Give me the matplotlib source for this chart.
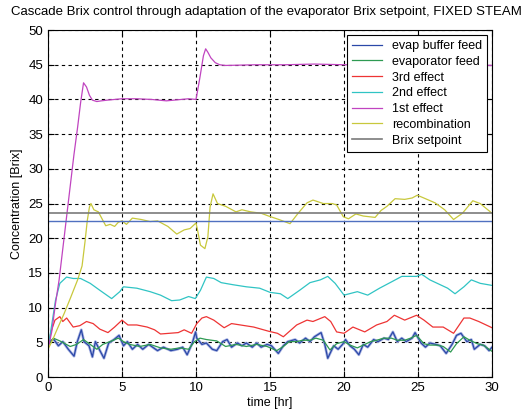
import matplotlib.pyplot as plt
import numpy as np

plt.rcParams['font.family'] = ['Liberation Sans', 'DejaVu Sans']

# 1st effect
t_1st = [0, 0.25, 0.5, 0.75, 1.0, 1.25, 1.5, 1.75, 2.0, 2.2, 2.4, 2.6, 2.8, 3.0, 3.3, 3.6, 4.0, 5.0, 6.0,
         7.0, 7.5, 8.0, 9.0, 9.5, 10.0, 10.25, 10.5, 10.65, 10.8, 11.0, 11.3, 11.6, 12.0, 14.0, 16.0,
         18.0, 20.0, 22.0, 24.0, 26.0, 28.0, 30.0]
v_1st = [4.0, 6.5, 10.5, 14.0, 18.5, 23.0, 27.5, 32.0, 36.0, 39.5, 42.4, 41.8, 40.6, 39.9, 39.7, 39.8, 39.9,
         40.1, 40.1, 40.0, 39.9, 39.8, 40.0, 40.1, 40.0, 43.0, 46.3, 47.3, 46.8, 46.0, 45.3, 45.0, 44.9,
         45.0, 45.0, 45.1, 45.0, 45.0, 45.0, 45.0, 45.0, 44.9]

# recombination
t_rec = [0, 0.3, 0.6, 1.1, 1.5, 2.0, 2.3, 2.5, 2.65, 2.8, 2.9, 3.1, 3.4, 3.7, 3.9, 4.2, 4.5, 4.75, 5.0,
         5.3, 5.7, 6.3, 6.9, 7.4, 8.1, 8.7, 9.2, 9.6, 10.0, 10.1, 10.3, 10.6, 10.8, 10.95, 11.15, 11.45,
         12.0, 12.7, 13.1, 13.7, 14.4, 14.9, 15.6, 16.35, 16.9, 17.5, 17.9, 18.6, 19.2, 19.5, 19.95,
         20.3, 20.8, 21.3, 22.1, 22.5, 22.9, 23.45, 24.1, 24.6, 24.95, 25.5, 26.15, 26.8, 27.4, 28.0,
         28.7, 29.2, 30.0]
v_rec = [4.0, 5.3, 6.8, 9.2, 11.3, 14.0, 16.0, 19.5, 22.5, 24.5, 25.0, 24.1, 23.8, 22.6, 21.8, 22.0, 21.7,
         22.3, 22.5, 22.0, 22.9, 22.7, 22.4, 22.5, 21.7, 20.6, 21.2, 21.4, 22.2, 21.2, 19.0, 18.5, 20.2,
         24.5, 26.4, 25.0, 24.6, 23.8, 24.1, 23.8, 23.6, 23.2, 22.7, 22.1, 23.6, 25.1, 25.5, 25.0, 25.0,
         24.8, 23.1, 22.8, 23.5, 23.2, 23.0, 24.0, 24.6, 25.7, 25.6, 25.8, 26.2, 25.7, 25.1, 24.1, 22.7,
         23.6, 25.4, 25.0, 23.6]

# 2nd effect
t_2nd = [0, 0.25, 0.5, 0.8, 1.25, 1.7, 2.2, 2.85, 3.5, 4.3, 4.85, 5.1, 6.0, 6.9, 7.6, 8.35, 8.9, 9.5, 9.95,
         10.3, 10.7, 11.2, 11.7, 12.5, 13.4, 14.3, 15.0, 15.7, 16.2, 17.0, 17.7, 18.4, 18.9, 19.4, 20.0,
         20.9, 21.6, 22.4, 23.2, 23.9, 24.9, 25.25, 25.8, 26.5, 27.0, 27.5, 28.1, 28.6, 29.2, 30.0]
v_2nd = [4.2, 7.5, 11.0, 13.5, 14.4, 14.2, 14.2, 13.5, 12.5, 11.3, 12.3, 13.0, 12.8, 12.3, 11.8, 11.0,
         11.1, 11.6, 11.3, 12.5, 14.4, 14.2, 13.6, 13.3, 13.0, 12.8, 12.2, 12.0, 11.3, 12.5, 13.6, 14.0,
         14.5, 13.5, 11.8, 12.3, 11.8, 12.8, 13.7, 14.5, 14.5, 14.8, 14.0, 13.3, 12.8, 12.0, 13.0, 14.0,
         13.5, 13.2]

# 3rd effect
t_3rd = [0, 0.2, 0.47, 0.8, 1.0, 1.26, 1.7, 2.15, 2.6, 3.05, 3.5, 4.05, 4.5, 5.0, 5.4, 6.0, 6.7, 7.2, 7.6,
         8.2, 8.8, 9.2, 9.7, 10.05, 10.4, 10.7, 11.2, 11.9, 12.4, 13.0, 13.9, 14.9, 15.5, 15.9, 16.8,
         17.5, 17.9, 18.7, 19.1, 19.5, 20.0, 20.6, 21.4, 22.2, 22.9, 23.4, 24.1, 24.9, 25.4, 26.0, 26.7,
         27.4, 28.1, 28.5, 29.1, 30.0]
v_3rd = [4.3, 6.5, 8.2, 8.7, 8.0, 8.5, 7.2, 7.4, 8.0, 7.7, 6.9, 6.4, 7.2, 8.2, 7.5, 7.5, 7.2, 6.8, 6.2,
         6.3, 6.4, 6.8, 6.3, 7.7, 8.5, 8.7, 8.2, 7.1, 7.7, 7.5, 7.2, 6.6, 6.3, 5.8, 7.5, 8.2, 8.0, 8.7,
         8.0, 6.5, 6.3, 7.2, 6.5, 7.5, 8.0, 8.9, 8.2, 8.9, 8.2, 7.2, 7.2, 6.3, 8.5, 8.5, 8.0, 7.1]

# evaporator feed
t_feed = [0, 0.36, 0.8, 1.5, 1.93, 2.4, 2.85, 3.3, 3.7, 4.3, 4.75, 5.1, 5.5, 6.2, 6.9, 7.6, 8.3, 8.9, 9.5,
          9.9, 10.27, 10.7, 11.4, 12.0, 12.7, 13.4, 14.1, 14.8, 15.45, 15.9, 16.3, 16.8, 17.2, 17.7,
          18.1, 18.6, 19.05, 19.5, 20.0, 20.4, 20.9, 21.3, 21.8, 22.2, 22.7, 23.2, 23.6, 24.1, 24.5,
          24.9, 25.4, 25.8, 26.3, 26.7, 27.2, 27.6, 28.1, 28.5, 29.0, 29.4, 30.0]
v_feed = [4.6, 5.6, 5.2, 4.4, 4.7, 5.4, 4.7, 4.0, 4.7, 5.2, 5.6, 5.1, 4.7, 4.4, 4.7, 4.2, 4.0, 4.2, 4.0,
          5.1, 5.6, 5.4, 5.2, 4.4, 4.7, 4.4, 4.7, 4.4, 3.8, 4.4, 5.1, 5.1, 5.3, 5.3, 5.6, 5.3, 3.9, 4.8,
          5.1, 4.6, 4.2, 4.6, 5.1, 5.3, 5.6, 5.6, 5.3, 5.3, 5.6, 6.0, 4.8, 4.6, 4.6, 4.4, 3.6, 4.8, 5.8,
          5.3, 4.8, 4.6, 3.7]

# evap buffer feed
t_buf = [0, 0.4, 0.7, 1.0, 1.37, 1.76, 1.98, 2.25, 2.43, 2.77, 3.0, 3.2, 3.46, 3.78, 4.1, 4.46, 4.8, 5.1,
         5.36, 5.7, 6.05, 6.4, 6.8, 7.4, 7.8, 8.3, 8.75, 9.1, 9.4, 9.75, 9.97, 10.05, 10.4, 10.7, 11.1,
         11.4, 11.8, 12.1, 12.4, 12.8, 13.1, 13.4, 13.8, 14.1, 14.4, 14.8, 15.1, 15.56, 15.9, 16.2,
         16.7, 17.0, 17.4, 17.7, 18.0, 18.45, 18.7, 18.9, 19.3, 19.6, 19.9, 20.1, 20.4, 20.7, 21.0,
         21.3, 21.6, 22.0, 22.3, 22.7, 23.0, 23.3, 23.6, 23.9, 24.2, 24.6, 24.8, 25.2, 25.5, 25.8, 26.2,
         26.5, 26.9, 27.3, 27.6, 27.9, 28.3, 28.6, 28.8, 29.2, 29.5, 29.8, 30.0]
v_buf = [5.1, 5.4, 4.5, 5.1, 4.0, 3.0, 5.1, 6.8, 5.1, 4.5, 2.9, 5.1, 4.0, 2.7, 4.9, 5.4, 6.0, 4.5, 5.1,
         4.0, 4.7, 4.0, 4.7, 3.8, 4.3, 3.8, 4.0, 4.3, 3.2, 4.9, 6.5, 5.6, 4.7, 4.9, 4.0, 3.8, 5.1, 5.4,
         4.3, 4.9, 4.5, 4.9, 4.3, 4.9, 4.3, 4.7, 4.5, 3.4, 4.5, 5.1, 5.4, 4.9, 5.6, 5.1, 5.8, 6.4, 4.7,
         2.7, 4.5, 4.0, 4.7, 5.4, 4.5, 4.0, 3.2, 4.7, 4.3, 5.4, 5.1, 5.6, 5.4, 6.5, 5.1, 5.6, 5.1, 5.6,
         6.4, 4.9, 4.3, 4.9, 4.7, 4.5, 3.4, 4.7, 6.0, 6.3, 5.1, 5.4, 4.0, 4.7, 4.5, 3.8, 4.3]

# horizontal references
t_flat = [0, 30]
v_setpoint = [23.6, 23.6]
v_target = [22.5, 22.5]

fig = plt.figure(figsize=(5.23, 4.17), dpi=100)
ax = fig.add_axes([0.0918, 0.0959, 0.849, 0.832])

ax.plot(t_buf, v_buf, color='#aab4e2', lw=2.0, zorder=1.9)
ax.plot(t_buf, v_buf, color='#2b48a8', lw=0.9, label='evap buffer feed')
ax.plot(t_feed, v_feed, color='#2e9a52', lw=0.9, label='evaporator feed')
ax.plot(t_3rd, v_3rd, color='#ee3434', lw=0.9, label='3rd effect')
ax.plot(t_2nd, v_2nd, color='#30c4c4', lw=0.9, label='2nd effect')
ax.plot(t_1st, v_1st, color='#c044c0', lw=0.9, label='1st effect')
ax.plot(t_rec, v_rec, color='#c8c83c', lw=0.9, label='recombination')
ax.plot(t_flat, v_setpoint, color='#7a7a7a', lw=1.2, label='Brix setpoint')
ax.plot(t_flat, v_target, color='#5070c0', lw=1.0)

ax.set_xlim(0, 30)
ax.set_ylim(0, 50)
ax.set_xticks(np.arange(0, 31, 5))
ax.set_yticks(np.arange(0, 51, 5))
ax.grid(True, color='black', linestyle=(0, (3, 3)), lw=0.8)
ax.tick_params(direction='in', labelsize=9.5, length=4, top=True, right=True)
for s in ax.spines.values():
    s.set_linewidth(0.8)

ax.set_xlabel('time [hr]', fontsize=9, labelpad=2)
ax.set_ylabel('Concentration [Brix]', fontsize=9, labelpad=4)
fig.text(266 / 523, 1 - 12 / 417,
         'Cascade Brix control through adaptation of the evaporator Brix setpoint, FIXED STEAM',
         fontsize=9.5, ha='center', va='center')

leg = ax.legend(loc='upper right', fontsize=9, fancybox=False, framealpha=1, edgecolor='black',
                handlelength=2.4, labelspacing=0.3, borderaxespad=0.4, borderpad=0.4)
leg.get_frame().set_linewidth(0.8)

fig.savefig('out.png', dpi=100)
